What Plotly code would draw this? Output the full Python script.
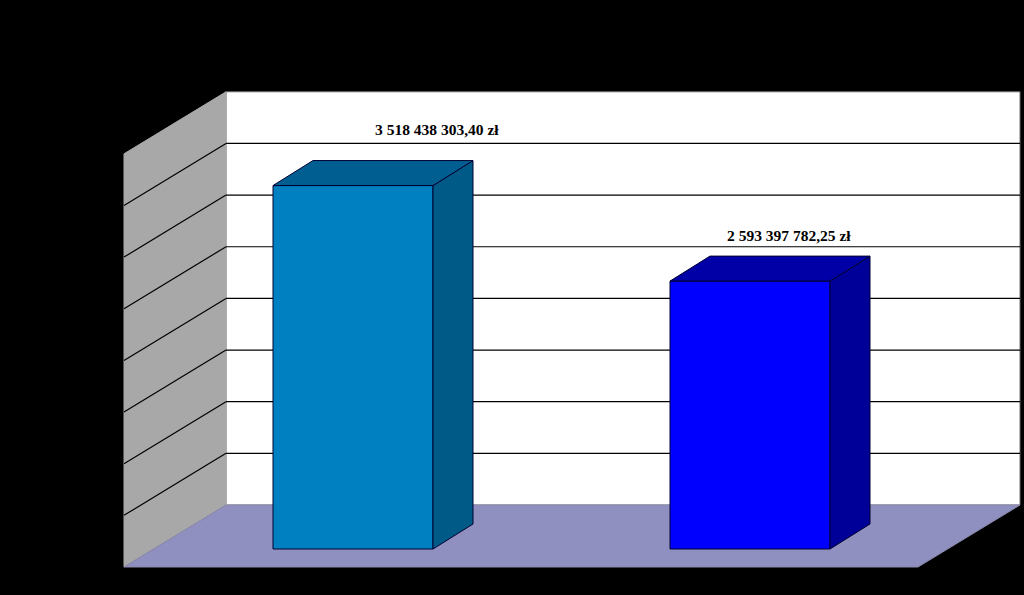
import plotly.graph_objects as go

# Data
values = [3518438303.40, 2593397782.25]
value_labels = ["3 518 438 303,40 zł", "2 593 397 782,25 zł"]
grid_ticks = [500000000, 1000000000, 1500000000, 2000000000,
              2500000000, 3000000000, 3500000000]
axis_min = 0
axis_max = 4000000000
front_colors = ["#0080C0", "#0000FF"]
side_colors = ["#005A87", "#000099"]
top_colors = ["#005F90", "#0000A6"]
label_shift = [(84, 56), (39, 45.5)]

W, H = 1024, 595
PX_PER_UNIT_Y = 51.65 / 500000000   # pixels per value unit
PX_PER_CAT = 397.0                  # pixels between the two bars
X0_PX, Y0_PX = 353.0, 549.0         # pixel of first bar centre / value zero
BAR_W = 160.0 / PX_PER_CAT


def dx(px):
    return px / PX_PER_CAT


def dy(px):
    return px / PX_PER_UNIT_Y


x_range = [-X0_PX / PX_PER_CAT, (W - X0_PX) / PX_PER_CAT]
y_range = [-dy(H - Y0_PX), dy(Y0_PX)]

# Depth offsets, in pixels, relative to the plane of the bars' front faces
BACK = (73.0, 44.0)
FRONT = (-29.0, -18.0)
BAR_DEPTH = (40.0, 25.0)
WALL_LEFT = dx(226 - X0_PX) - dx(BACK[0])      # floor-plane x of left wall
WALL_RIGHT = dx(1020 - X0_PX) - dx(BACK[0])    # floor-plane x of right end


def project(x, v, depth):
    return x + dx(depth[0]), v + dy(depth[1])


def poly(points):
    path = "M " + " L ".join(f"{x},{y}" for x, y in points) + " Z"
    return path


shapes = []
grey = "#6E6E6E"
# Back wall
shapes.append(dict(type="path", layer="below", fillcolor="#FFFFFF",
                   line=dict(color=grey, width=1),
                   path=poly([project(WALL_LEFT, axis_min, BACK),
                              project(WALL_RIGHT, axis_min, BACK),
                              project(WALL_RIGHT, axis_max, BACK),
                              project(WALL_LEFT, axis_max, BACK)])))
# Left wall
shapes.append(dict(type="path", layer="below", fillcolor="#A8A8A8",
                   line=dict(color="#A8A8A8", width=1),
                   path=poly([project(WALL_LEFT, axis_min, FRONT),
                              project(WALL_LEFT, axis_min, BACK),
                              project(WALL_LEFT, axis_max, BACK),
                              project(WALL_LEFT, axis_max, FRONT)])))
# Floor
shapes.append(dict(type="path", layer="below", fillcolor="#9090C0",
                   line=dict(color="#8888AC", width=1),
                   path=poly([project(WALL_LEFT, axis_min, FRONT),
                              project(WALL_LEFT, axis_min, BACK),
                              project(WALL_RIGHT, axis_min, BACK),
                              project(WALL_RIGHT, axis_min, FRONT)])))
# Gridlines on both walls
for t in grid_ticks:
    a = project(WALL_LEFT, t, FRONT)
    b = project(WALL_LEFT, t, BACK)
    c = project(WALL_RIGHT, t, BACK)
    for p, q in ((a, b), (b, c)):
        shapes.append(dict(type="line", layer="below", x0=p[0], y0=p[1],
                           x1=q[0], y1=q[1],
                           line=dict(color="#000000", width=1.2)))

fig = go.Figure()
xs = list(range(len(values)))
fig.add_trace(go.Bar(x=xs, y=values, width=BAR_W,
                     marker=dict(color=front_colors,
                                 line=dict(color="#000030", width=1)),
                     hoverinfo="skip", showlegend=False))

edge = dict(color="#000030", width=1)
for i, v in zip(xs, values):
    l, r = i - BAR_W / 2, i + BAR_W / 2
    side = [(r, 0), project(r, 0, BAR_DEPTH), project(r, v, BAR_DEPTH), (r, v), (r, 0)]
    top = [(l, v), (r, v), project(r, v, BAR_DEPTH), project(l, v, BAR_DEPTH), (l, v)]
    for pts, col in ((side, side_colors[i]), (top, top_colors[i])):
        fig.add_trace(go.Scatter(x=[p[0] for p in pts], y=[p[1] for p in pts],
                                 mode="lines", fill="toself", fillcolor=col,
                                 line=edge, hoverinfo="skip", showlegend=False))

annotations = [dict(x=i, y=v, xref="x", yref="y", text=f"<b>{lab}</b>",
                    showarrow=False, xshift=s[0], yshift=s[1],
                    font=dict(family="Liberation Serif", size=15.5, color="#000000"))
               for i, v, lab, s in zip(xs, values, value_labels, label_shift)]

fig.update_layout(
    width=W, height=H, margin=dict(l=0, r=0, t=0, b=0),
    paper_bgcolor="#000000", plot_bgcolor="#000000",
    shapes=shapes, annotations=annotations, showlegend=False,
    xaxis=dict(range=x_range, visible=False, fixedrange=True),
    yaxis=dict(range=y_range, visible=False, fixedrange=True),
)
fig.write_html("out.html", config=dict(displayModeBar=False),
               post_script="document.body.style.margin='0';document.body.style.background='#000';document.body.style.overflow='hidden';")
